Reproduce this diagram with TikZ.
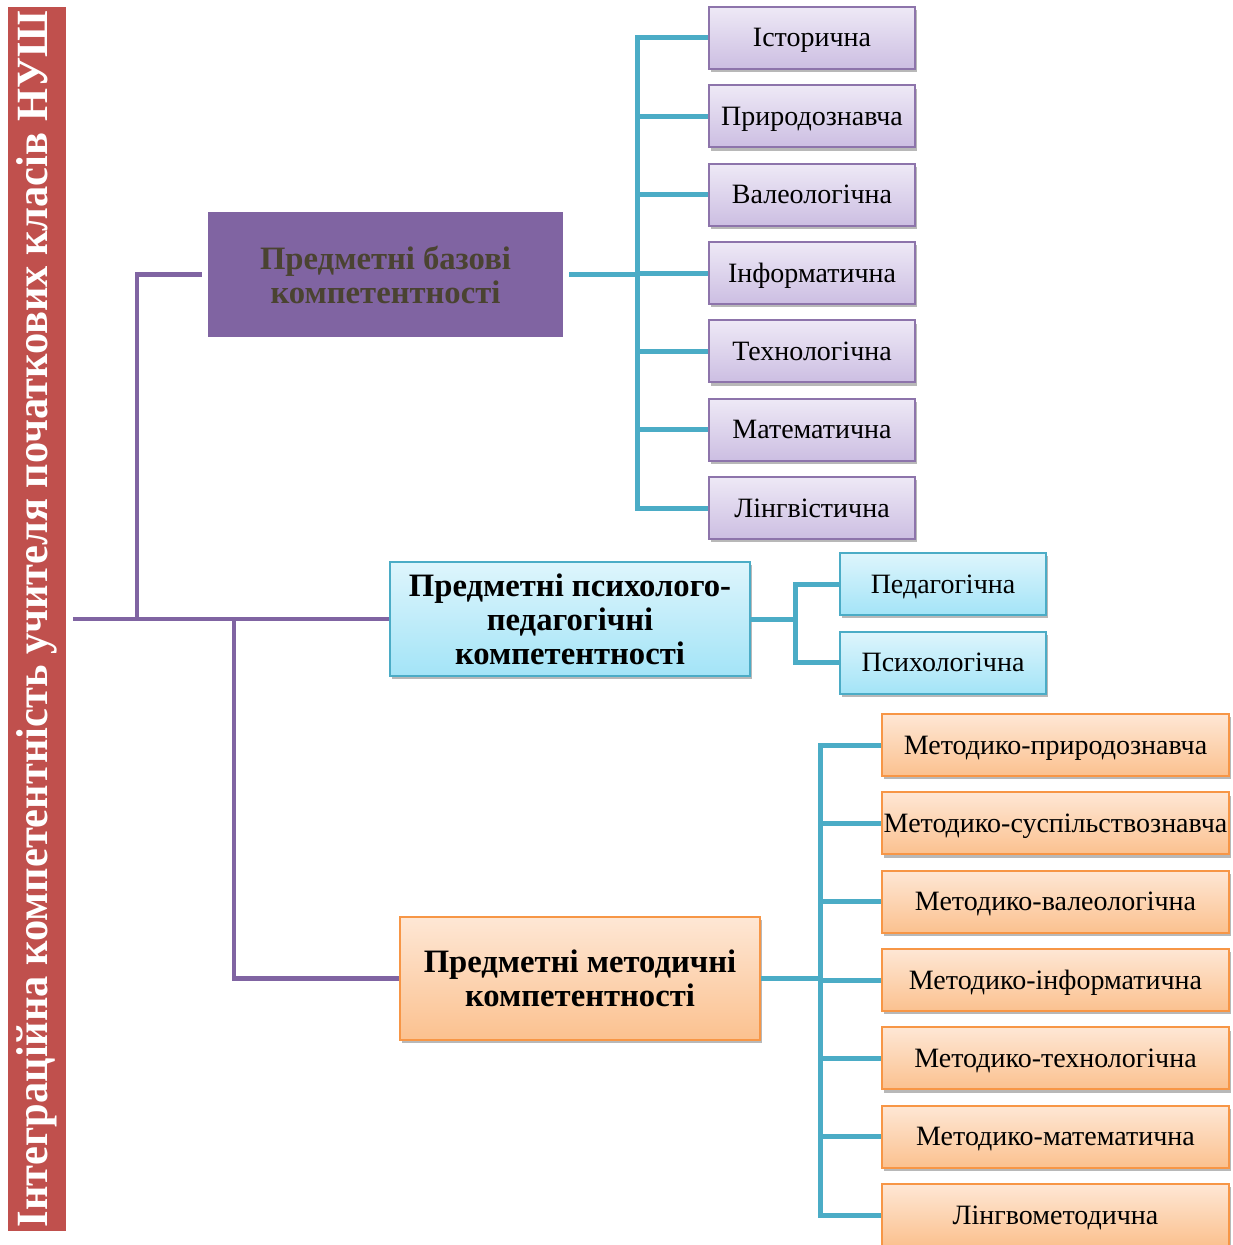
\documentclass[tikz,border=0pt]{standalone}
\usepackage{fontspec}
\setmainfont{Liberation Serif}
\usetikzlibrary{shadows}
\definecolor{barred}{HTML}{C0504D}
\definecolor{vio}{HTML}{8064A2}
\definecolor{tealc}{HTML}{4BACC6}
\definecolor{orng}{HTML}{F79646}
\definecolor{vtext}{HTML}{4A4331}
\definecolor{lavtop}{HTML}{EEE9F6}
\definecolor{lavbot}{HTML}{CCBEE2}
\definecolor{cyantop}{HTML}{DEF5FC}
\definecolor{cyanbot}{HTML}{A3E4F7}
\definecolor{ortop}{HTML}{FEE7D5}
\definecolor{orbot}{HTML}{FBC18F}
\begin{document}
\begin{tikzpicture}[x=0.75pt,y=-0.75pt,
  softshadow/.style={drop shadow={shadow xshift=1.5pt, shadow yshift=-2.5pt, opacity=0.28, fill=black}},
  mainbox/.style={rectangle, inner sep=0pt, align=center, minimum width=270pt,
    font=\bfseries\fontsize{24.5}{25.5}\selectfont},
  leafbox/.style={rectangle, draw, line width=1.5pt, inner sep=0pt, minimum height=46.5pt,
    text height=17.5pt, text depth=4pt,
    font=\fontsize{21}{24}\selectfont, softshadow},
  lavleaf/.style={leafbox, draw=vio!90, top color=lavtop, bottom color=lavbot, minimum width=154.5pt},
  cyanleaf/.style={leafbox, draw=tealc, top color=cyantop, bottom color=cyanbot, minimum width=154.5pt},
  orleaf/.style={leafbox, draw=orng, top color=ortop, bottom color=orbot, minimum width=260.25pt},
  vline/.style={draw=vio, line width=3.2pt},
  tline/.style={draw=tealc, line width=3.75pt},
]
\useasboundingbox (0,0) rectangle (1232,1245);

% left bar
\node[rectangle, fill=barred, inner sep=0pt, minimum width=43.5pt, minimum height=918pt] (bar) at (37,619) {};
\node[rotate=90, text=white, font=\bfseries\fontsize{33.5}{36}\selectfont, inner sep=0pt] (bartext) at (bar.center)
  {\resizebox{912pt}{\height}{Інтеграційна компетентність учителя початкових класів НУШ}};

% main boxes
\node[mainbox, fill=vio, text=vtext, minimum width=266.25pt, minimum height=93.75pt] (pb) at (385.5,274.5)
  {Предметні базові\\компетентності};
\node[mainbox, draw=tealc, line width=1.5pt, top color=cyantop, bottom color=cyanbot, minimum height=85.5pt, softshadow] (pp) at (570,619)
  {Предметні психолого-\\педагогічні\\компетентності};
\node[mainbox, draw=orng, line width=1.5pt, top color=ortop, bottom color=orbot, minimum height=92.25pt, softshadow] (pm) at (580,978.5)
  {Предметні методичні\\компетентності};

% purple leaves
\node[lavleaf] (a1) at (812,38) {Історична};
\node[lavleaf] (a2) at (812,116.3) {Природознавча};
\node[lavleaf] (a3) at (812,194.7) {Валеологічна};
\node[lavleaf] (a4) at (812,273) {Інформатична};
\node[lavleaf] (a5) at (812,351.3) {Технологічна};
\node[lavleaf] (a6) at (812,429.7) {Математична};
\node[lavleaf] (a7) at (812,508) {Лінгвістична};

% cyan leaves
\node[cyanleaf] (b1) at (943,584) {Педагогічна};
\node[cyanleaf] (b2) at (943,662.5) {Психологічна};

% orange leaves
\node[orleaf] (c1) at (1055.5,745) {Методико-природознавча};
\node[orleaf] (c2) at (1055.5,823.3) {Методико-суспільствознавча};
\node[orleaf] (c3) at (1055.5,901.7) {Методико-валеологічна};
\node[orleaf] (c4) at (1055.5,980) {Методико-інформатична};
\node[orleaf] (c5) at (1055.5,1058.3) {Методико-технологічна};
\node[orleaf] (c6) at (1055.5,1136.7) {Методико-математична};
\node[orleaf] (c7) at (1055.5,1215) {Лінгвометодична};

% junctions
\coordinate (j1) at (137,619);
\coordinate (j2) at (234,619);
\coordinate (ba) at (637,274.5);
\coordinate (bb) at (795,619);
\coordinate (bc) at (820,978.5);

% purple connectors
\draw[vline, shorten <=5pt] (bar.east) -- (pp.west);
\draw[vline, shorten >=4pt] (j1) |- (pb.west);
\draw[vline] (j2) |- (pm.west);

% teal connectors
\draw[tline, shorten <=4.5pt] (pb.east) -- (ba);
\foreach \n in {a1,a2,a3,a4,a5,a6,a7} { \draw[tline] (ba) |- (\n.west); }
\draw[tline] (pp.east) -- (bb);
\foreach \n in {b1,b2} { \draw[tline] (bb) |- (\n.west); }
\draw[tline] (pm.east) -- (bc);
\foreach \n in {c1,c2,c3,c4,c5,c6,c7} { \draw[tline] (bc) |- (\n.west); }
\end{tikzpicture}
\end{document}
